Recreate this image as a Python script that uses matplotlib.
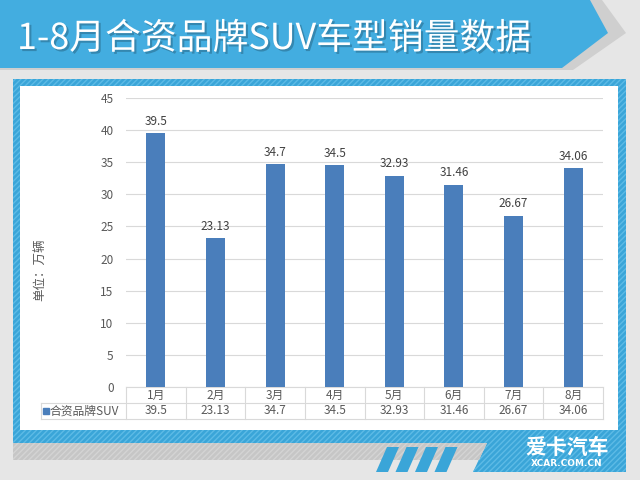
import matplotlib
matplotlib.use("Agg")
import matplotlib.pyplot as plt
import matplotlib.patheffects as pe
from matplotlib.patches import Polygon, Rectangle

plt.rcParams['font.family'] = ['Noto Sans CJK SC', 'DejaVu Sans']

# dados
titulo = "1-8月合资品牌SUV车型销量数据"
meses = ["1月", "2月", "3月", "4月", "5月", "6月", "7月", "8月"]
vendas = [39.5, 23.13, 34.7, 34.5, 32.93, 31.46, 26.67, 34.06]
rotulos = ["39.5", "23.13", "34.7", "34.5", "32.93", "31.46", "26.67", "34.06"]
serie = "合资品牌SUV"
unidade = "单位：万辆"

azul_barra = "#4a7ebb"
azul_banner = "#43ade0"
azul_quadro = "#3aa5d8"
cinza_texto = "#595959"
cinza_linha = "#d9d9d9"

fig = plt.figure(figsize=(6.4, 4.8), dpi=100, facecolor="#e6e6e6")

# fundo desenhado em pixels
bg = fig.add_axes([0, 0, 1, 1], zorder=0)
bg.set_xlim(0, 640)
bg.set_ylim(480, 0)
bg.axis("off")

# faixa do título com sombra
bg.add_patch(Polygon([(0, 0), (602, 0), (626, 33), (573, 70), (0, 70)], closed=True,
                     facecolor="#cfcfcf", edgecolor="none"))
bg.add_patch(Polygon([(0, 0), (590, 0), (608, 33), (562, 68), (0, 68)], closed=True,
                     facecolor=azul_banner, edgecolor="none"))
bg.text(17, 39, titulo, color="white", fontsize=25.8, fontweight="medium", va="center", ha="left",
        path_effects=[pe.withSimplePatchShadow(offset=(1.5, -1.5), shadow_rgbFace="#2a6f90", alpha=0.6)])

# moldura azul
bg.add_patch(Rectangle((13, 79), 613, 364, facecolor=azul_quadro, edgecolor="#5dbbe6",
                       hatch="//////", linewidth=0))
bg.add_patch(Polygon([(487, 443), (626, 443), (626, 472), (473, 472)], closed=True,
                     facecolor=azul_quadro, edgecolor="#5dbbe6", hatch="//////", linewidth=0))
bg.add_patch(Polygon([(13, 443), (487, 443), (479, 460), (13, 460)], closed=True,
                     facecolor="#c6c6c6", edgecolor="#d4d4d4", hatch="//////", linewidth=0))
for i in range(4):
    x0 = 387 + 19.5 * i
    bg.add_patch(Polygon([(x0, 447), (x0 + 12, 447), (x0 + 1, 472), (x0 - 11, 472)], closed=True,
                         facecolor=azul_quadro, edgecolor="none"))
bg.add_patch(Rectangle((20, 86), 598, 344, facecolor="white", edgecolor="none"))

# logo
bg.text(567, 448, "爱卡汽车", color="white", fontsize=15, fontweight="bold", ha="center", va="center")
bg.text(567, 463, "XCAR.COM.CN", color="white", fontsize=6.5, fontweight="bold",
        ha="center", va="center", family="DejaVu Sans")

# gráfico principal
ax = fig.add_axes([126 / 640, (480 - 387) / 480, (603 - 126) / 640, (387 - 98) / 480], zorder=2)
ax.patch.set_alpha(0)
x = list(range(len(meses)))
ax.bar(x, vendas, width=0.32, color=azul_barra, zorder=3)
ax.set_xlim(-0.5, len(meses) - 0.5)
ax.set_ylim(0, 45)
ax.set_yticks(range(0, 46, 5))
ax.tick_params(axis="y", length=0, pad=9, labelsize=8.5, labelcolor=cinza_texto)
ax.set_xticks([])
ax.grid(axis="y", color=cinza_linha, linewidth=0.8, zorder=0)
for s in ax.spines.values():
    s.set_visible(False)

for xi, v, r in zip(x, vendas, rotulos):
    ax.annotate(r, (xi, v), xytext=(0, 4), textcoords="offset points",
                ha="center", va="bottom", fontsize=8.5, color="#404040")

# tabela de dados abaixo do eixo
tr = ax.get_xaxis_transform()
h = 16 / 289
esq = -0.5 - (126 - 41) / 59.6
kw = dict(transform=tr, color=cinza_linha, linewidth=0.8, clip_on=False)
ax.plot([-0.5, 7.5], [0, 0], **kw)
ax.plot([esq, 7.5], [-h, -h], **kw)
ax.plot([esq, 7.5], [-2 * h, -2 * h], **kw)
ax.plot([esq, esq], [-h, -2 * h], **kw)
for i in range(len(meses) + 1):
    ax.plot([i - 0.5, i - 0.5], [0, -2 * h], **kw)
for xi, m, r in zip(x, meses, rotulos):
    ax.text(xi, -h / 2, m, transform=tr, ha="center", va="center", fontsize=8.5, color=cinza_texto)
    ax.text(xi, -1.5 * h, r, transform=tr, ha="center", va="center", fontsize=8.5, color=cinza_texto)
ax.plot([-0.5 - (126 - 46) / 59.6], [-1.5 * h], marker="s", markersize=5, color=azul_barra,
        transform=tr, clip_on=False)
ax.text(-0.5 - (126 - 50) / 59.6, -1.5 * h, serie, transform=tr, ha="left", va="center",
        fontsize=8.5, color=cinza_texto)

fig.text(40 / 640, 1 - 270 / 480, unidade, rotation=90, ha="center", va="center",
         fontsize=9, color=cinza_texto)

fig.savefig("out.png", dpi=100, facecolor=fig.get_facecolor())
